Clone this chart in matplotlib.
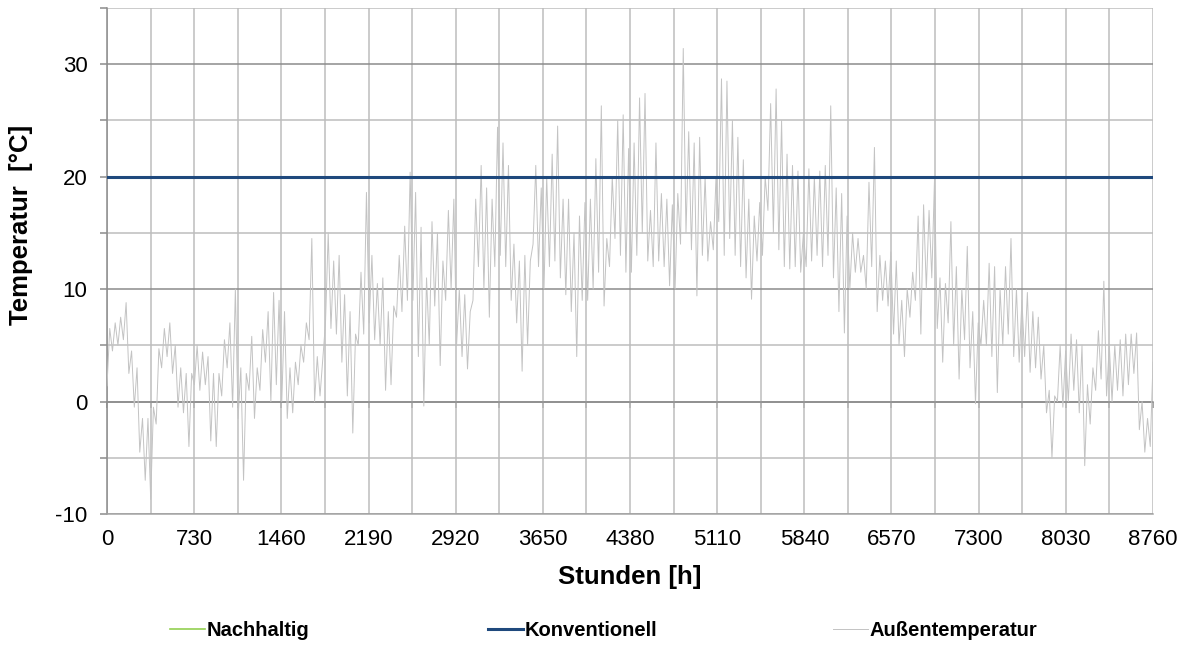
import numpy as np
import matplotlib
matplotlib.use("Agg")
import matplotlib.pyplot as plt
from matplotlib.ticker import MultipleLocator

temp_lo = [1.4, 4.5, 5.0, 5.5, 2.5, -0.5, -4.5, -7.0,
           -8.7, -2.0, 3.0, 4.0, 2.5, -0.5, -1.0, -4.0,
           1.5, 1.0, 1.5, -3.5, -4.0, 0.5, 3.0, -0.5,
           -1.5, -7.0, 1.0, -1.5, 1.0, 3.5, 0.0, 1.5,
           0.0, -1.5, -1.0, 1.5, 3.5, 5.5, 0.0, 0.5,
           7.0, 6.5, 6.0, 3.5, 0.5, -2.8, 5.0, 6.0,
           7.0, 5.5, 5.0, 1.0, 1.5, 7.5, 8.0, 9.0,
           9.0, 4.0, -0.4, 5.0, 8.5, 3.2, 9.0, 10.0,
           5.0, 4.0, 2.9, 9.0, 12.0, 10.0, 7.5, 12.0,
           13.0, 12.0, 9.0, 7.0, 2.7, 5.0, 14.0, 12.0,
           10.0, 12.0, 12.5, 11.0, 9.5, 8.0, 4.0, 9.0,
           9.0, 10.0, 11.5, 8.5, 12.0, 14.5, 13.0, 11.5,
           11.5, 13.0, 15.0, 12.5, 12.0, 12.5, 12.0, 10.3,
           10.0, 14.0, 15.0, 13.5, 9.4, 13.0, 12.5, 13.5,
           16.0, 13.0, 14.5, 13.0, 12.0, 11.0, 9.1, 12.5,
           13.0, 17.0, 15.0, 13.5, 12.0, 11.8, 12.0, 11.5,
           12.0, 12.5, 13.0, 12.0, 13.0, 11.0, 8.0, 6.1,
           10.0, 11.5, 11.5, 10.0, 12.0, 8.0, 9.0, 8.5,
           6.0, 5.0, 4.0, 7.5, 9.0, 6.0, 10.0, 11.0,
           6.5, 3.5, 7.0, 5.0, 2.0, 5.5, 3.0, -0.2,
           5.0, 5.0, 4.0, 0.8, 5.0, 6.0, 4.0, 3.5,
           4.0, 2.6, 3.0, 2.0, -1.0, -5.0, 0.0, -0.5,
           0.0, 1.0, -1.0, -5.7, -2.0, 1.0, 2.0, 0.5,
           0.0, 1.0, 0.5, 1.5, 2.5, -2.5, -4.5, -4.0]
temp_hi = [6.5, 7.0, 7.5, 8.8, 4.5, 3.0, -1.5, -1.5,
           -0.5, 4.7, 6.5, 7.0, 5.0, 3.0, 2.5, 2.5,
           5.0, 4.4, 4.0, 2.5, 2.5, 5.5, 7.0, 10.0,
           3.0, 2.5, 5.8, 3.0, 6.4, 8.0, 9.7, 9.0,
           8.0, 3.0, 3.5, 5.0, 7.0, 14.5, 4.0, 3.8,
           15.0, 12.5, 13.0, 9.5, 8.0, 6.0, 11.5, 18.6,
           13.0, 10.5, 11.0, 8.0, 8.5, 13.0, 15.6, 20.4,
           18.6, 15.5, 11.0, 16.0, 15.0, 12.5, 17.0, 18.0,
           10.0, 9.5, 8.0, 18.0, 21.0, 19.0, 18.0, 24.4,
           23.0, 21.0, 14.0, 12.5, 13.0, 12.5, 21.0, 19.0,
           20.0, 22.0, 24.5, 18.0, 18.0, 15.0, 16.5, 17.7,
           18.0, 21.6, 26.3, 14.5, 20.0, 25.0, 25.5, 22.5,
           23.0, 27.0, 27.4, 17.0, 23.0, 18.5, 18.0, 17.5,
           18.5, 31.4, 24.0, 23.0, 23.5, 20.0, 16.0, 20.0,
           28.7, 28.5, 25.0, 23.5, 21.5, 18.0, 16.5, 17.7,
           20.0, 26.5, 27.8, 25.0, 22.0, 21.0, 20.5, 15.0,
           20.7, 20.0, 20.5, 21.0, 26.3, 19.0, 18.5, 16.5,
           15.0, 14.5, 13.0, 19.5, 22.6, 13.0, 12.5, 13.3,
           12.5, 9.0, 10.0, 11.5, 16.5, 17.5, 17.0, 19.8,
           11.0, 10.5, 16.0, 12.0, 10.0, 13.8, 8.0, 7.0,
           9.0, 12.3, 12.0, 10.0, 12.0, 14.5, 10.0, 9.0,
           9.7, 8.0, 7.5, 5.0, 1.0, 0.5, 5.0, 4.5,
           6.0, 5.5, 5.0, 1.5, 3.0, 6.3, 10.7, 5.0,
           5.0, 5.5, 6.0, 6.0, 6.1, 0.0, -1.5, 3.5]

soll_nachhaltig = 20
soll_konventionell = 20
stunden_max = 8760

# lo/hi abwechselnd -> Zickzack wie im Original
aussen = np.ravel(np.column_stack([temp_lo, temp_hi]))
stunden = np.linspace(0, stunden_max, len(aussen))

plt.rcParams['font.family'] = ['Liberation Sans', 'DejaVu Sans']
plt.rcParams['axes.unicode_minus'] = False

fig = plt.figure(figsize=(11.89, 6.46), dpi=100)
ax = fig.add_axes([107/1189, 1 - 514/646, 1046/1189, 506/646])

ax.plot(stunden, aussen, color='#c3c3c3', lw=0.7, label='Außentemperatur', zorder=3)
ax.plot([0, stunden_max], [soll_nachhaltig] * 2, color='#92d050', lw=1.2,
        label='Nachhaltig', zorder=4)
ax.plot([0, stunden_max], [soll_konventionell] * 2, color='#1f497d', lw=2.2,
        label='Konventionell', zorder=5)

ax.set_xlim(0, stunden_max)
ax.set_ylim(-10, 35)
ax.xaxis.set_major_locator(MultipleLocator(730))
ax.xaxis.set_minor_locator(MultipleLocator(365))
ax.yaxis.set_major_locator(MultipleLocator(10))
ax.yaxis.set_minor_locator(MultipleLocator(5))

ax.grid(which='major', axis='y', color='#8c8c8c', lw=1.1)
ax.grid(which='minor', axis='y', color='#bdbdbd', lw=1.1)
ax.grid(which='both', axis='x', color='#bdbdbd', lw=1.1)
ax.set_axisbelow(True)

for s in ['top', 'right']:
    ax.spines[s].set_visible(False)
ax.spines['left'].set_color('#8c8c8c')
ax.spines['left'].set_linewidth(1.1)
ax.spines['bottom'].set_color('#a6a6a6')
ax.spines['bottom'].set_linewidth(1.1)

ax.tick_params(axis='x', which='both', length=0, pad=11, labelsize=16)
ax.tick_params(axis='y', which='both', length=5, width=1.1, color='#8c8c8c',
               pad=9, labelsize=16)
ax.set_yticks([-10, 0, 10, 20, 30])

# Excel-Achse bei 0 mit kleinen Teilstrichen
sec = ax.secondary_xaxis(10 / 45)
sec.xaxis.set_major_locator(MultipleLocator(365))
sec.tick_params(length=4, width=1.1, color='#8c8c8c', labelbottom=False)
sec.spines['bottom'].set_color('#8c8c8c')
sec.spines['bottom'].set_linewidth(1.1)

ax.set_xlabel('Stunden [h]', fontsize=18.5, fontweight='bold')
ax.xaxis.set_label_coords(0.5, -0.1)
ax.set_ylabel('Temperatur  [°C]', fontsize=18.5, fontweight='bold')
ax.yaxis.set_label_coords(-0.071, 0.571)

handles, labels = ax.get_legend_handles_labels()
h = dict(zip(labels, handles))
leg_font = {'weight': 'bold', 'size': 14.5}
for name, xpos in [('Nachhaltig', 170), ('Konventionell', 488),
                   ('Außentemperatur', 833)]:
    lg = fig.legend([h[name]], [name], loc='center left',
                    bbox_to_anchor=(xpos / 1189, 1 - 631 / 646),
                    frameon=False, prop=leg_font, handlelength=1.75,
                    handletextpad=0.05, borderaxespad=0, borderpad=0)

fig.savefig('out.png', dpi=100)
